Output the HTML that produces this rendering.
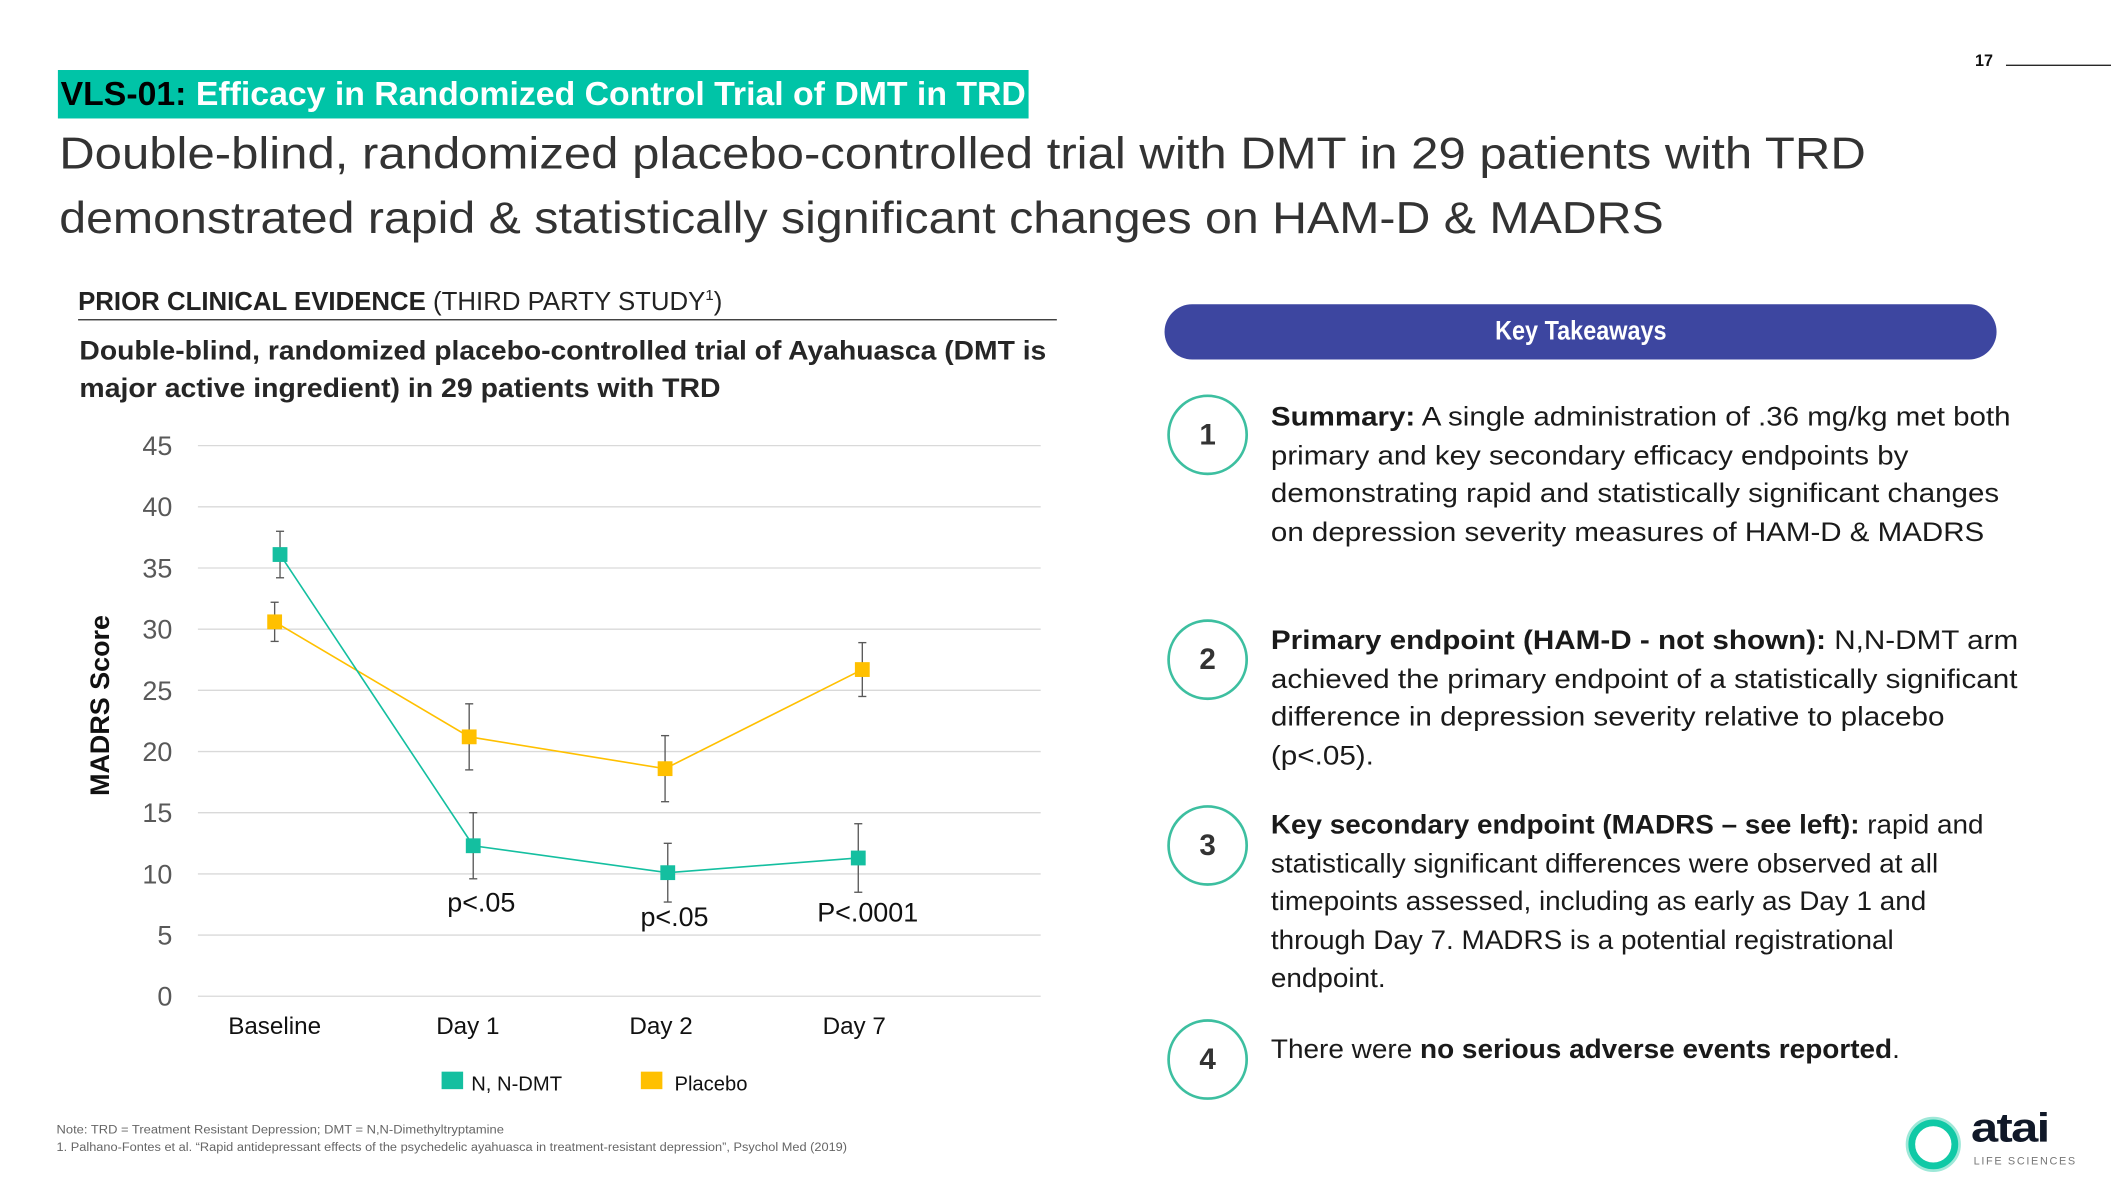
<!DOCTYPE html>
<html><head><meta charset="utf-8">
<style>
html,body{margin:0;padding:0;background:#fff;width:2111px;height:1187px;overflow:hidden}
#stage{position:absolute;left:0;top:0;width:1568px;height:882px;transform:scale(1.346301);transform-origin:0 0;font-family:"Liberation Sans",sans-serif;color:#262626}
.a{position:absolute;white-space:nowrap;transform-origin:0 0}
.circ{position:absolute;width:60px;height:60px;border:2.5px solid #3DBFA0;border-radius:50%;box-sizing:border-box;text-align:center;line-height:56px;font-weight:bold;font-size:22px;color:#333}
.blk{font-size:20px;line-height:28.6px;color:#1a1a1a}
</style></head><body>
<div id="stage">
  <div class="a" style="left:1467px;top:38px;font-size:12px;font-weight:bold;color:#111">17</div>
  <div class="a" style="left:1490px;top:48px;width:78px;height:1px;background:#222"></div>

  <div class="a" style="left:43px;top:52px;width:721px;height:36px;background:#00C4A7"></div>
  <div class="a fit" data-fw="717" style="left:45px;top:54px;font-size:25px;font-weight:bold;line-height:32px;color:#fff"><span style="color:#000">VLS-01:</span> Efficacy in Randomized Control Trial of DMT in TRD</div>

  <div class="a fit" data-fw="1342" style="left:44px;top:93px;font-size:33px;line-height:42px;color:#333">Double-blind, randomized placebo-controlled trial with DMT in 29 patients with TRD</div>
  <div class="a fit" data-fw="1192" style="left:44px;top:141px;font-size:33px;line-height:42px;color:#333">demonstrated rapid &amp; statistically significant changes on HAM-D &amp; MADRS</div>

  <div class="a fit" data-fw="479" style="left:58px;top:207px;font-size:19px;line-height:26px;color:#222"><b>PRIOR CLINICAL EVIDENCE</b> (THIRD PARTY STUDY<sup style="font-size:11px">1</sup>)</div>
  <div class="a" style="left:58px;top:237px;width:727px;height:1px;background:#333"></div>
  <div class="a fit" data-fw="718" style="left:59px;top:247px;font-size:20px;font-weight:bold;line-height:28px;color:#262626">Double-blind, randomized placebo-controlled trial of Ayahuasca (DMT is</div>
  <div class="a fit" data-fw="476" style="left:59px;top:275px;font-size:20px;font-weight:bold;line-height:28px;color:#262626">major active ingredient) in 29 patients with TRD</div>

  <svg class="a" id="chart" style="left:0;top:0" width="800" height="830"></svg>

  <div class="a" style="left:865px;top:226px;width:618px;height:41px;border-radius:21px;background:#3D46A0;color:#fff;text-align:center;font-weight:bold;font-size:20px;line-height:41px"><span class="fitc" style="display:inline-block">Key Takeaways</span></div>

  <div class="circ" style="left:867px;top:293px">1</div>
  <div class="circ" style="left:867px;top:460px">2</div>
  <div class="circ" style="left:867px;top:598px">3</div>
  <div class="circ" style="left:867px;top:757px">4</div>

  <div class="a blk fit" data-fw="549" style="left:944px;top:296px"><b>Summary:</b> A single administration of .36 mg/kg met both<br>primary and key secondary efficacy endpoints by<br>demonstrating rapid and statistically significant changes<br>on depression severity measures of HAM-D &amp; MADRS</div>
  <div class="a blk fit" data-fw="555" style="left:944px;top:462px"><b>Primary endpoint (HAM-D - not shown):</b> N,N-DMT arm<br>achieved the primary endpoint of a statistically significant<br>difference in depression severity relative to placebo<br>(p&lt;.05).</div>
  <div class="a blk fit" data-fw="529" style="left:944px;top:599px"><b>Key secondary endpoint (MADRS – see left):</b> rapid and<br>statistically significant differences were observed at all<br>timepoints assessed, including as early as Day 1 and<br>through Day 7. MADRS is a potential registrational<br>endpoint.</div>
  <div class="a blk fit" data-fw="467" style="left:944px;top:766px">There were <b>no serious adverse events reported</b>.</div>

  <div class="a fit" data-fw="332" style="left:42px;top:834px;font-size:9px;color:#666">Note: TRD = Treatment Resistant Depression; DMT = N,N-Dimethyltryptamine</div>
  <div class="a fit" data-fw="587" style="left:42px;top:847px;font-size:9px;color:#666">1. Palhano-Fontes et al. “Rapid antidepressant effects of the psychedelic ayahuasca in treatment-resistant depression”, Psychol Med (2019)</div>

  <svg class="a" style="left:1414px;top:828px" width="44" height="44"><circle cx="22" cy="22" r="17" fill="none" stroke="#9EE8D8" stroke-width="7"/><circle cx="22" cy="22" r="16" fill="none" stroke="#10C9A6" stroke-width="5"/></svg>
  <div class="a fit" data-fw="58" style="left:1464px;top:822px;font-size:30px;font-weight:bold;color:#101828;line-height:34px;letter-spacing:-1px">atai</div>
  <div class="a fit" data-fw="77" style="left:1466px;top:858px;font-size:8px;color:#777;letter-spacing:1.2px">LIFE SCIENCES</div>
</div>
<script>
const categories = ["Baseline","Day 1","Day 2","Day 7"];
const dmtValues = [36.1, 12.3, 10.1, 11.3];
const dmtErrors = [1.9, 2.7, 2.4, 2.8];
const placeboValues = [30.6, 21.2, 18.6, 26.7];
const placeboErrors = [1.6, 2.7, 2.7, 2.2];
const yTicks = [0,5,10,15,20,25,30,35,40,45];
const pLabels = ["", "p<.05", "p<.05", "P<.0001"];
const pLabelValues = [0, 7.7, 6.5, 6.9];
const seriesNames = ["N, N-DMT","Placebo"];

const NS='http://www.w3.org/2000/svg';
const svg=document.getElementById('chart');
const X0=208, XSTEP=143.5, Y0=740, YPX=(740-331)/45;
function xs(i){return X0+i*XSTEP;}
function ys(v){return Y0-v*YPX;}
function mk(tag,attrs,parent){const e=document.createElementNS(NS,tag);for(const k in attrs)e.setAttribute(k,attrs[k]);(parent||svg).appendChild(e);return e;}

yTicks.forEach(t=>{
  const l=mk('line',{x1:147,x2:773,y1:ys(t),y2:ys(t),stroke:'#d9d9d9','stroke-width':1});
  
  
  const tx=mk('text',{x:128,y:ys(t)+7,'text-anchor':'end','font-size':20,fill:'#595959'});
  
  
  tx.textContent=t;
});
const yt=mk('text',{x:0,y:0,'text-anchor':'middle','font-size':20,'font-weight':'bold',fill:'#111',transform:'translate(81,524) rotate(-90)'});


yt.textContent='MADRS Score';

categories.forEach((c,i)=>{
  const tx=mk('text',{x:xs(i)-4,y:768,'text-anchor':'middle','font-size':18,fill:'#111'});
  
  
  tx.textContent=c;
});

function drawSeries(vals,errs,color,name,dx){
  const pts=vals.map((v,i)=>(xs(i)+dx[i])+','+ys(v)).join(' ');
  const pl=mk('polyline',{points:pts,fill:'none',stroke:color,'stroke-width':1.2});
  
  
  vals.forEach((v,i)=>{
    const x=xs(i)+dx[i];
    const g=mk('g',{});
    
    
    mk('line',{x1:x,x2:x,y1:ys(v+errs[i]),y2:ys(v-errs[i]),stroke:'#595959','stroke-width':1},g);
    mk('line',{x1:x-3,x2:x+3,y1:ys(v+errs[i]),y2:ys(v+errs[i]),stroke:'#595959','stroke-width':1},g);
    mk('line',{x1:x-3,x2:x+3,y1:ys(v-errs[i]),y2:ys(v-errs[i]),stroke:'#595959','stroke-width':1},g);
    const r=mk('rect',{x:x-5.5,y:ys(v)-5.5,width:11,height:11,fill:color});
    
    
  });
}
drawSeries(placeboValues,placeboErrors,'#FFC000','placebo',[-4,-3,-1,2]);
drawSeries(dmtValues,dmtErrors,'#14BFA0','dmt',[0,0,1,-1]);

pLabels.forEach((p,i)=>{
  if(!p)return;
  const tx=mk('text',{x:xs(i)+6,y:ys(pLabelValues[i])+7,'text-anchor':'middle','font-size':20,fill:'#111'});
  
  
  tx.textContent=p;
});

const legendColors=['#14BFA0','#FFC000'];
const legendX=[328,476];
seriesNames.forEach((n,i)=>{
  const r=mk('rect',{x:legendX[i],y:796,width:16,height:13,fill:legendColors[i]});
  
  
  const t=mk('text',{x:legendX[i]+(i?25:22),y:810,'font-size':15,fill:'#111'});
  
  
  t.textContent=n;
});

document.querySelectorAll('.fit').forEach(e=>{
  const w=e.scrollWidth, fw=+e.getAttribute('data-fw');
  if(w>0) e.style.transform='scaleX('+(fw/w)+')';
});
document.querySelectorAll('.fitc').forEach(e=>{e.style.transform='scaleX(0.87)';});
</script>
</body></html>
